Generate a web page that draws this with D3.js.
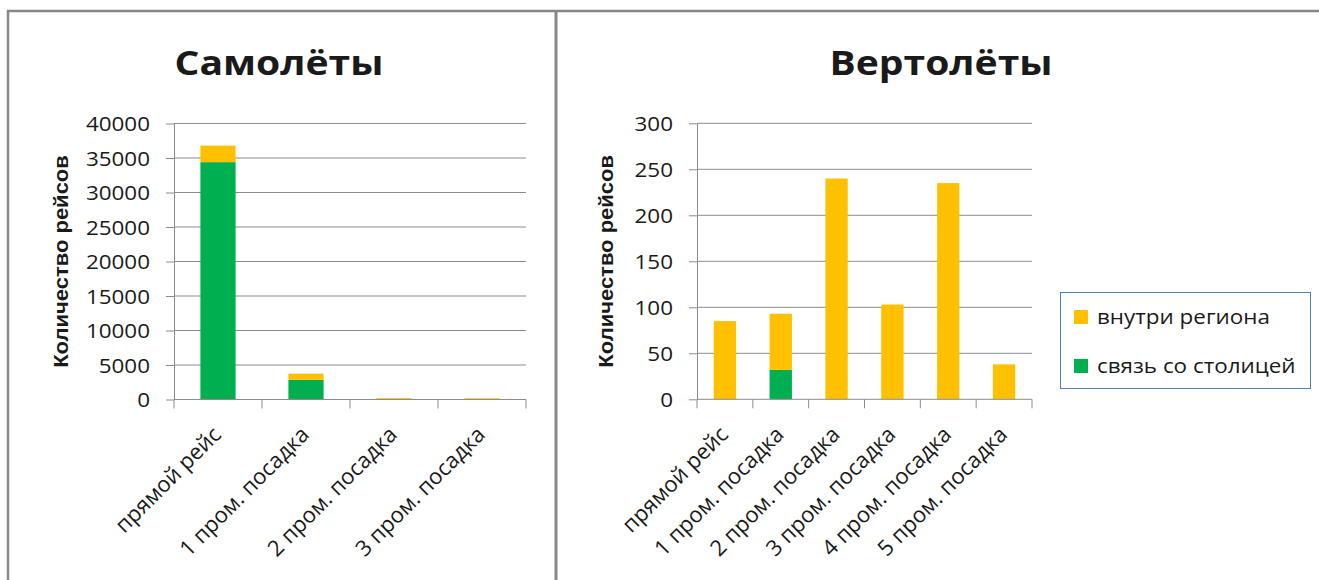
<!DOCTYPE html>
<html>
<head>
<meta charset="utf-8">
<script src="https://cdn.jsdelivr.net/npm/d3@7"></script>
<style>
  html, body { margin: 0; padding: 0; background: #fff; }
  svg { display: block; }
  text { font-family: "Open Sans", "Noto Sans", sans-serif; fill: #1a1a1a; }
  .wide-end { transform-box: fill-box; transform-origin: right center; transform: scaleX(1.15); }
  .wide-mid { transform-box: fill-box; transform-origin: center center; transform: scaleX(1.15); }
  .wide-start { transform-box: fill-box; transform-origin: left center; transform: scaleX(1.15); }
</style>
</head>
<body>
<script>
// Aeroplanes: flights by number of intermediate landings
const planeCategories = ["прямой рейс", "1 пром. посадка", "2 пром. посадка", "3 пром. посадка"];
const planeCapital = [34400, 2850, 0, 0];
const planeRegional = [2400, 900, 200, 180];
const planeTicks = [0, 5000, 10000, 15000, 20000, 25000, 30000, 35000, 40000];

// Helicopters
const heliCategories = ["прямой рейс", "1 пром. посадка", "2 пром. посадка", "3 пром. посадка", "4 пром. посадка", "5 пром. посадка"];
const heliCapital = [0, 32, 0, 0, 0, 0];
const heliRegional = [85, 61, 240, 103, 235, 38];
const heliTicks = [0, 50, 100, 150, 200, 250, 300];

const seriesNames = ["внутри региона", "связь со столицей"];
const seriesColors = ["#FFC000", "#00B050"];
const axisTitle = "Количество рейсов";

const W = 1319, H = 580;
const svg = d3.select("body").append("svg").attr("width", W).attr("height", H);

// outer frame and divider
const frameColor = "#888888";
svg.append("line").attr("x1", 7).attr("x2", W).attr("y1", 11).attr("y2", 11)
  .attr("stroke", frameColor).attr("stroke-width", 2.5);
svg.append("line").attr("x1", 8).attr("x2", 8).attr("y1", 10).attr("y2", H)
  .attr("stroke", frameColor).attr("stroke-width", 2.5);
svg.append("line").attr("x1", 556).attr("x2", 556).attr("y1", 10).attr("y2", H)
  .attr("stroke", frameColor).attr("stroke-width", 3);

function drawPanel(opts) {
  const { title, titleX, categories, capital, regional, ticks, left, right, top, bottom, titleAxisX } = opts;
  const g = svg.append("g");

  const x = d3.scaleBand().domain(categories).range([left, right])
    .paddingInner(0.6).paddingOuter(0.3);
  const y = d3.scaleLinear().domain([0, d3.max(ticks)]).range([bottom, top]);

  // gridlines
  g.append("g").selectAll("line").data(ticks.filter(t => t > 0)).join("line")
    .attr("x1", left).attr("x2", right)
    .attr("y1", d => y(d)).attr("y2", d => y(d))
    .attr("stroke", "#8c8c8c").attr("stroke-width", 1);

  // stacked bars: capital link at the bottom, intra-regional on top
  const rows = categories.map((c, i) => ({ cat: c, cap: capital[i], reg: regional[i] }));
  g.append("g").selectAll("rect").data(rows.filter(d => d.cap > 0)).join("rect")
    .attr("x", d => x(d.cat)).attr("width", x.bandwidth())
    .attr("y", d => y(d.cap)).attr("height", d => y(0) - y(d.cap))
    .attr("fill", seriesColors[1]);
  g.append("g").selectAll("rect").data(rows.filter(d => d.reg > 0)).join("rect")
    .attr("x", d => x(d.cat)).attr("width", x.bandwidth())
    .attr("y", d => y(d.cap + d.reg)).attr("height", d => y(d.cap) - y(d.cap + d.reg))
    .attr("fill", seriesColors[0]);

  // y axis
  const yAxis = g.append("g").attr("transform", `translate(${left},0)`)
    .call(d3.axisLeft(y).tickValues(ticks).tickSize(8).tickPadding(16).tickSizeOuter(0)
      .tickFormat(d3.format("d")));
  yAxis.select(".domain").attr("stroke", "#8c8c8c");
  yAxis.selectAll(".tick line").attr("stroke", "#8c8c8c");
  yAxis.selectAll(".tick text").attr("class", "wide-end")
    .style("font-size", "19.5px").attr("dy", "0.36em").attr("fill", "#1a1a1a");

  // x axis with ticks on category boundaries
  const xa = g.append("g");
  xa.append("line").attr("x1", left).attr("x2", right).attr("y1", bottom).attr("y2", bottom)
    .attr("stroke", "#8c8c8c");
  const bounds = d3.range(categories.length + 1).map(i => left + i * x.step());
  xa.selectAll("line.b").data(bounds).join("line").attr("class", "b")
    .attr("x1", d => d).attr("x2", d => d).attr("y1", bottom).attr("y2", bottom + 9)
    .attr("stroke", "#8c8c8c");
  xa.selectAll("text").data(categories).join("text")
    .attr("transform", d => `translate(${x(d) + x.bandwidth() / 2 - 1},${bottom + 31}) rotate(-45)`)
    .attr("text-anchor", "end").attr("dy", "0.35em")
    .style("font-size", "22px")
    .text(d => d);

  // axis title
  g.append("text")
    .attr("transform", `translate(${titleAxisX},${(top + bottom) / 2}) rotate(-90) scale(1.1,1)`)
    .attr("text-anchor", "middle")
    .style("font-family", "'Liberation Sans', Arial, sans-serif")
    .style("font-weight", "bold").style("font-size", "20px")
    .attr("fill", "#000")
    .text(axisTitle);

  // chart title
  g.append("text").attr("class", "wide-mid")
    .attr("x", titleX).attr("y", 75).attr("text-anchor", "middle")
    .style("font-weight", "bold").style("font-size", "34px").attr("fill", "#000")
    .text(title);
}

drawPanel({
  title: "Самолёты", titleX: 279,
  categories: planeCategories, capital: planeCapital, regional: planeRegional, ticks: planeTicks,
  left: 174, right: 526, top: 123.5, bottom: 399.5, titleAxisX: 68
});

drawPanel({
  title: "Вертолёты", titleX: 941,
  categories: heliCategories, capital: heliCapital, regional: heliRegional, ticks: heliTicks,
  left: 697, right: 1032, top: 123.3, bottom: 399.3, titleAxisX: 613
});

// legend
const lg = svg.append("g");
lg.append("rect").attr("x", 1060.5).attr("y", 292.5).attr("width", 250).attr("height", 96)
  .attr("fill", "#fff").attr("stroke", "#4F81BD").attr("stroke-width", 1);
const items = lg.selectAll("g.item").data(seriesNames).join("g").attr("class", "item")
  .attr("transform", (d, i) => `translate(1074,${317 + i * 49})`);
items.append("rect").attr("x", 0).attr("y", -7).attr("width", 14).attr("height", 14)
  .attr("fill", (d, i) => seriesColors[i]);
items.append("text").attr("class", "wide-start").attr("x", 23).attr("dy", "0.35em")
  .style("font-size", "19.5px").text(d => d);
</script>
</body>
</html>
